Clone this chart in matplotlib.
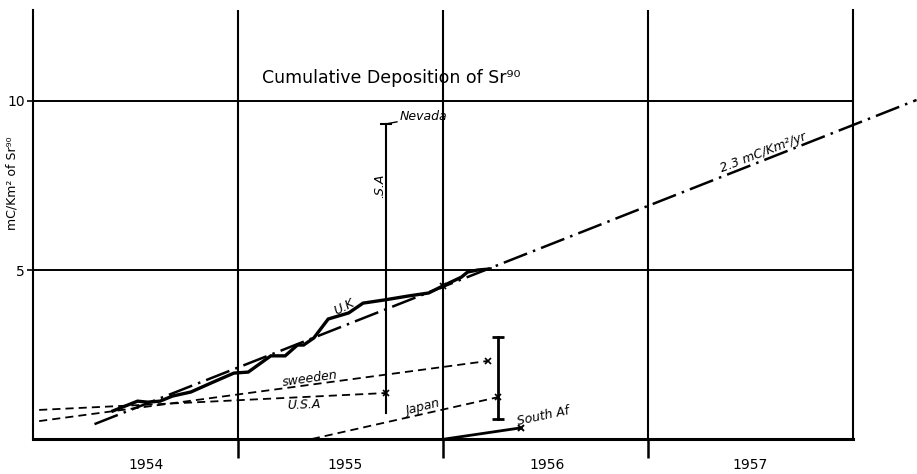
import matplotlib
matplotlib.use("Agg")
import matplotlib.pyplot as plt

# --- data ---
year_labels = ["1954", "1955", "1956", "1957"]
year_label_x = [1954.55, 1955.52, 1956.51, 1957.50]

uk_year = [1954.39, 1954.51, 1954.56, 1954.62, 1954.68, 1954.77, 1954.87, 1954.98,
           1955.05, 1955.16, 1955.23, 1955.29, 1955.32, 1955.37, 1955.44, 1955.54,
           1955.61, 1955.71, 1955.83, 1955.93, 1956.00, 1956.09, 1956.12, 1956.17,
           1956.23]
uk_val = [0.83, 1.12, 1.09, 1.12, 1.27, 1.39, 1.66, 1.95,
          1.98, 2.46, 2.46, 2.78, 2.78, 2.99, 3.55, 3.73,
          4.02, 4.11, 4.23, 4.32, 4.53, 4.79, 4.94, 5.00,
          5.03]
uk_mark = (1956.00, 4.53)

trend_year = [1954.30, 1958.31]
trend_val = [0.44, 10.03]

sweden_year = [1954.03, 1956.22]
sweden_val = [0.53, 2.31]

usa_year = [1954.03, 1955.72]
usa_val = [0.86, 1.36]
usa_range_year = 1955.72
usa_range = [0.77, 9.32]

japan_year = [1955.36, 1956.27]
japan_val = [0.0, 1.24]
japan_range_year = 1956.27
japan_range = [0.59, 3.02]

safrica_year = [1956.01, 1956.38]
safrica_val = [0.0, 0.33]

fig = plt.figure(figsize=(9.17, 4.74), dpi=100)
fig.patch.set_facecolor("white")
ax = fig.add_axes([33 / 917, 35 / 474, 820 / 917, 429 / 474])
ax.set_xlim(1954, 1958)
ax.set_ylim(0, 429 / 33.8)

for side in ["left", "right"]:
    ax.spines[side].set_linewidth(1.5)
ax.spines["bottom"].set_linewidth(2.2)
ax.spines["top"].set_visible(False)

# ruled lines of the sheet
for yr in [1955, 1956, 1957]:
    ax.axvline(yr, color="black", lw=1.5)
for v in [5, 10]:
    ax.axhline(v, color="black", lw=1.4)

ax.set_xticks([1955, 1956, 1957])
ax.set_xticklabels([])
ax.tick_params(axis="x", direction="out", length=14, width=1.8, color="black")
ax.set_yticks([5, 10])
ax.set_yticklabels(["5", "10"], fontsize=10)
ax.tick_params(axis="y", direction="out", length=4, width=1.2, pad=2)

for lab, x in zip(year_labels, year_label_x):
    ax.text(x, -0.77, lab, ha="center", va="center", fontsize=10, clip_on=False)

# trend line
ax.plot(trend_year, trend_val, color="black", lw=1.8,
        dashes=(10, 2.5, 1, 2.5), clip_on=False)

# U.K. measurements
ax.plot(uk_year, uk_val, color="black", lw=2.4, solid_joinstyle="miter")
ax.plot(*uk_mark, "x", color="black", ms=5, mew=1.2)

# dashed national series
ax.plot(sweden_year, sweden_val, color="black", lw=1.3, dashes=(4.5, 2.8), clip_on=False)
ax.plot(sweden_year[-1], sweden_val[-1], "x", color="black", ms=5, mew=1.2)
ax.plot(usa_year, usa_val, color="black", lw=1.3, dashes=(4.5, 2.8), clip_on=False)
ax.plot(usa_year[-1], usa_val[-1], "x", color="black", ms=5, mew=1.2)
ax.plot(japan_year, japan_val, color="black", lw=1.3, dashes=(4.5, 2.8))
ax.plot(japan_year[-1], japan_val[-1], "x", color="black", ms=5, mew=1.2)
ax.plot(safrica_year, safrica_val, color="black", lw=2.0)
ax.plot(safrica_year[-1], safrica_val[-1], "x", color="black", ms=5, mew=1.4)

# range bars
ax.plot([usa_range_year] * 2, usa_range, color="black", lw=1.5)
ax.plot(usa_range_year, usa_range[1], "_", color="black", ms=8, mew=1.5)
ax.plot([japan_range_year] * 2, japan_range, color="black", lw=2.0)
ax.plot([japan_range_year] * 2, japan_range, "_", color="black", ms=8, mew=2.0)

# annotations
note = dict(fontsize=9, style="italic", ha="center", va="center")
ax.text(1955.75, 10.68, "Cumulative Deposition of Sr⁹⁰", fontsize=12.5,
        ha="center", va="center")
ax.annotate("Nevada", xy=(usa_range_year, usa_range[1]), xytext=(1955.79, 9.53),
            fontsize=9, style="italic", ha="left", va="center",
            arrowprops=dict(arrowstyle="-", lw=1, color="black",
                            shrinkA=0, shrinkB=0))
ax.text(1955.69, 7.49, ".S.A", rotation=90, **note)
ax.text(1955.52, 3.91, "U.K", rotation=27, **note)
ax.text(1955.35, 1.78, "sweeden", rotation=8, **note)
ax.text(1955.32, 1.01, "U.S.A", rotation=2, **note)
ax.text(1955.90, 0.92, "Japan", rotation=14, **note)
ax.text(1956.49, 0.68, "South Af", rotation=12, **note)
ax.text(1957.56, 8.46, "2.3 mC/Km²/yr", rotation=21, **note)

fig.text(12 / 917, 1 - 183 / 474, "mC/Km² of Sr⁹⁰", rotation=90,
         fontsize=9, ha="center", va="center")

fig.savefig("out.png", dpi=100, facecolor="white")
